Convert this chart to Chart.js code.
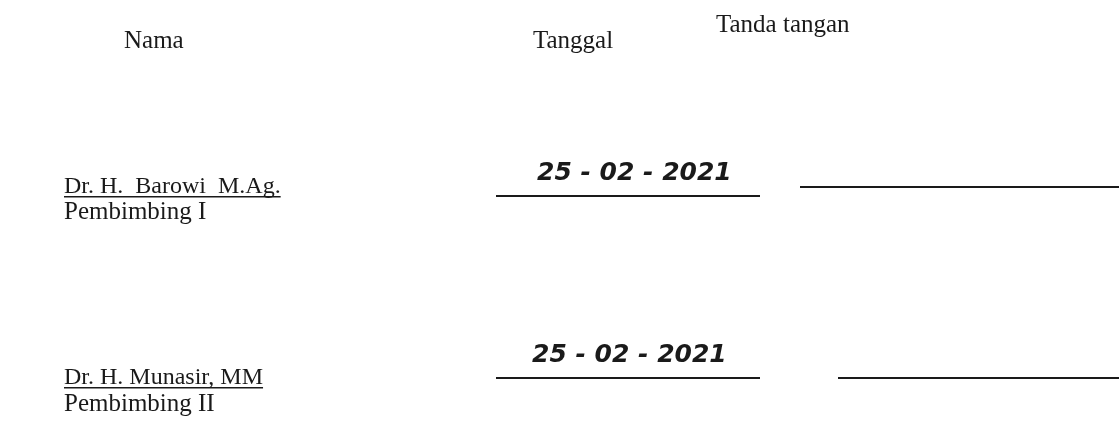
<!DOCTYPE html>
<html>
<head>
<meta charset="utf-8">
<script src="https://cdn.jsdelivr.net/npm/chart.js@4"></script>
<style>
  html, body { margin: 0; padding: 0; background: #fff; }
  #wrap { width: 1119px; height: 426px; }
</style>
</head>
<body>
<div id="wrap"><canvas id="myChart"></canvas></div>
<script>
// page text
const headers = ['Nama', 'Tanggal', 'Tanda tangan'];
const names = ['Dr. H.  Barowi  M.Ag.', 'Dr. H. Munasir, MM'];
const roles = ['Pembimbing I', 'Pembimbing II'];
const dates = ['25 - 02 - 2021', '25 - 02 - 2021'];

// layout in page pixels (x to the right, y downwards)
const layout = {
  headerX: [124, 533, 716],
  headerY: [48, 48, 32],
  nameX: 64,
  nameY: [193, 384],
  roleY: [219, 411],
  dateX: [537, 532],
  dateY: [180, 362],
  dateRule: [[496, 760, 196], [496, 760, 378]],
  signRule: [[800, 1119, 187], [838, 1119, 378]]
};

const ink = '#1a1a1a';

function ruleDataset(r) {
  return {
    data: [{x: r[0], y: r[2]}, {x: r[1], y: r[2]}],
    showLine: true,
    borderColor: ink,
    borderWidth: 2,
    pointRadius: 0
  };
}

const rules = layout.dateRule.concat(layout.signRule).map(ruleDataset);

const textPlugin = {
  id: 'pageText',
  afterDatasetsDraw(chart) {
    const ctx = chart.ctx;
    const sx = chart.scales.x, sy = chart.scales.y;
    const px = v => sx.getPixelForValue(v);
    const py = v => sy.getPixelForValue(v);
    ctx.save();
    ctx.fillStyle = ink;
    ctx.textBaseline = 'alphabetic';
    ctx.textAlign = 'left';
    ctx.font = '25px "Liberation Serif"';
    headers.forEach((h, i) => ctx.fillText(h, px(layout.headerX[i]), py(layout.headerY[i])));
    names.forEach((n, i) => {
      const x = px(layout.nameX), y = py(layout.nameY[i]);
      ctx.font = '24px "Liberation Serif"';
      ctx.fillText(n, x, y);
      const w = ctx.measureText(n).width;
      ctx.fillRect(x, y + 3, w, 1.5);
      ctx.font = '25px "Liberation Serif"';
      ctx.fillText(roles[i], x, py(layout.roleY[i]));
    });
    ctx.font = 'italic bold 25px "DejaVu Sans"';
    dates.forEach((d, i) => ctx.fillText(d, px(layout.dateX[i]), py(layout.dateY[i])));
    ctx.restore();
  }
};

new Chart(document.getElementById('myChart'), {
  type: 'scatter',
  data: { datasets: rules },
  options: {
    responsive: true,
    maintainAspectRatio: false,
    animation: false,
    layout: { padding: 0 },
    plugins: { legend: { display: false }, tooltip: { enabled: false } },
    scales: {
      x: { type: 'linear', min: 0, max: 1119, display: false },
      y: { type: 'linear', min: 0, max: 426, reverse: true, display: false }
    }
  },
  plugins: [textPlugin]
});
</script>
</body>
</html>
